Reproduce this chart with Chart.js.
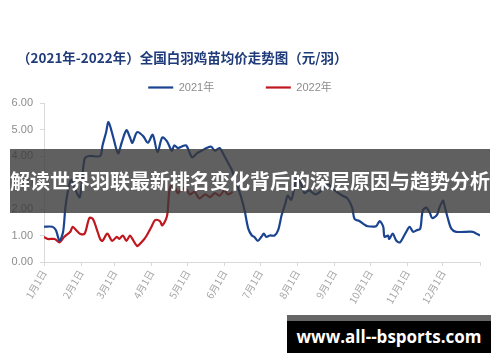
<!DOCTYPE html>
<html>
<head>
<meta charset="utf-8">
<script src="https://cdn.jsdelivr.net/npm/chart.js@4"></script>
<style>
  body { margin: 0; background: #fff; }
  #wrap { position: relative; width: 500px; height: 362px; overflow: hidden; }
  #titulo {
    position: absolute; left: 17px; top: 47px; white-space: nowrap;
    color: #1f3b7a; font: bold 13.5px "Noto Sans CJK SC", sans-serif; line-height: 20px;
  }
  #banner {
    position: absolute; left: 10px; top: 149px; width: 480px; height: 64px;
    background: rgba(56, 56, 56, 0.8); color: #fff;
    font: bold 20px "Noto Sans CJK SC", sans-serif; line-height: 64px;
    white-space: nowrap; text-align: center;
  }
  #mark {
    position: absolute; left: 287px; top: 315px; width: 204px; height: 32px;
    background: #000; border-top: 6px solid #666; color: #fff;
    font: bold 17px "Open Sans", sans-serif; line-height: 32px; text-align: center;
  }
</style>
</head>
<body>
<div id="wrap">
  <canvas id="grafico" width="500" height="362"></canvas>
  <div id="titulo">（2021年-2022年）全国白羽鸡苗均价走势图（元/羽）</div>
  <div id="banner">解读世界羽联最新排名变化背后的深层原因与趋势分析</div>
  <div id="mark">www.all--bsports.com</div>
</div>
<script>
// Días del año (0 = 1 de enero) y precio medio (元/羽)
const dias2021 = [0, 7, 10, 13, 16, 18, 21, 23, 26, 30, 34, 38, 47, 49, 52, 54, 58, 62, 65, 69, 72, 74, 78, 83, 87, 91, 95, 99, 103, 107, 109, 112, 115, 119, 124, 128, 132, 136, 140, 143, 147, 151, 154, 157, 161, 165, 168, 171, 174, 176, 179, 182, 184, 186, 189, 193, 196, 199, 202, 204, 207, 210, 212, 216, 218, 222, 227, 231, 235, 238, 241, 245, 250, 254, 258, 260, 264, 268, 271, 278, 281, 284, 285, 288, 289, 292, 295, 298, 300, 304, 306, 309, 312, 315, 317, 320, 323, 325, 329, 331, 334, 335, 338, 341, 345, 359, 362, 365];
const precio2021 = [1.33, 1.33, 1.2, 0.8, 1.14, 2.1, 2.9, 3.1, 2.75, 2.45, 3.9, 4.0, 4.0, 4.4, 4.9, 5.28, 4.7, 4.1, 4.5, 4.97, 4.7, 4.5, 4.9, 4.75, 4.5, 4.8, 4.15, 4.7, 4.55, 4.2, 4.4, 4.3, 4.35, 4.4, 3.95, 4.1, 4.2, 4.3, 4.35, 4.2, 4.3, 4.0, 3.75, 3.5, 2.97, 2.45, 1.93, 1.26, 1.0, 0.95, 0.8, 0.95, 1.07, 0.95, 1.0, 1.0, 1.2, 1.78, 2.2, 2.5, 2.35, 2.9, 3.2, 2.85, 2.6, 2.7, 2.55, 2.65, 2.85, 2.95, 2.8, 2.65, 2.5, 2.4, 2.05, 1.62, 1.55, 1.42, 1.35, 1.35, 1.54, 1.33, 0.95, 1.0, 0.87, 1.07, 0.8, 0.74, 0.87, 1.2, 1.33, 1.14, 1.2, 1.26, 1.93, 2.05, 1.86, 1.66, 1.78, 2.05, 2.32, 2.18, 1.66, 1.26, 1.14, 1.14, 1.07, 1.0];

const dias2022 = [0, 3, 9, 13, 17, 22, 24, 27, 30, 34, 38, 41, 44, 47, 49, 53, 57, 61, 63, 66, 69, 72, 74, 78, 80, 84, 86, 90, 93, 97, 99, 103, 105, 108, 112, 115, 119, 122, 126, 130, 135, 139, 143, 147, 151, 154, 158];
const precio2022 = [0.95, 0.87, 0.87, 0.74, 0.95, 1.14, 1.33, 1.2, 1.07, 1.07, 1.66, 1.62, 1.26, 0.87, 0.8, 1.07, 0.8, 0.95, 0.87, 1.0, 0.8, 1.0, 0.87, 0.6, 0.67, 0.87, 1.0, 1.33, 1.58, 1.54, 1.38, 1.74, 2.7, 3.0, 2.6, 2.75, 2.75, 2.55, 2.65, 2.4, 2.55, 2.45, 2.6, 2.5, 2.7, 2.55, 2.65];

// Inicio de cada mes en días y sus etiquetas
const inicioMes = [0, 31, 59, 90, 120, 151, 181, 212, 243, 273, 304, 334, 365];
const etiquetasMes = ['1月1日', '2月1日', '3月1日', '4月1日', '5月1日', '6月1日', '7月1日', '8月1日', '9月1日', '10月1日', '11月1日', '12月1日'];

const aPuntos = (dias, precios) => dias.map((d, i) => ({ x: d, y: precios[i] }));

const gris = '#8c8c8c';
const linea = '#d9d9d9';

new Chart(document.getElementById('grafico'), {
    type: 'line',
    data: {
        datasets: [{
            label: '2021年',
            data: aPuntos(dias2021, precio2021),
            borderColor: '#1b4490',
            backgroundColor: '#1b4490',
            borderWidth: 2.2,
            pointRadius: 0,
            tension: 0.3
        }, {
            label: '2022年',
            data: aPuntos(dias2022, precio2022),
            borderColor: '#c0161e',
            backgroundColor: '#c0161e',
            borderWidth: 2.2,
            pointRadius: 0,
            tension: 0.3
        }]
    },
    options: {
        responsive: false,
        animation: false,
        layout: { padding: { left: 0, right: 20, top: 64, bottom: 0 } },
        plugins: {
            legend: {
                position: 'top',
                labels: {
                    usePointStyle: true,
                    pointStyle: 'line',
                    pointStyleWidth: 25,
                    padding: 18,
                    color: gris,
                    font: { family: '"Liberation Sans", "Noto Sans CJK SC", sans-serif', size: 11 },
                    // separación más ancha entre las dos entradas, como en el original
                    generateLabels: chart => {
                        const items = Chart.defaults.plugins.legend.labels.generateLabels(chart);
                        items[0].text += '           ';
                        return items;
                    }
                }
            },
            tooltip: { enabled: false }
        },
        scales: {
            x: {
                type: 'linear',
                min: 0,
                max: 365,
                afterBuildTicks: scale => { scale.ticks = inicioMes.map(v => ({ value: v })); },
                afterFit: scale => { scale.height = 100; },
                grid: { drawOnChartArea: false, drawTicks: true, tickLength: 4, color: linea },
                border: { display: true, color: linea },
                ticks: {
                    autoSkip: false,
                    minRotation: 60,
                    maxRotation: 60,
                    padding: 2,
                    color: '#a6a6a6',
                    font: { family: '"Noto Sans CJK SC", sans-serif', size: 10 },
                    callback: (v, i) => etiquetasMes[i] || ''
                }
            },
            y: {
                min: 0,
                max: 6,
                afterFit: scale => { scale.width = 44; },
                grid: { drawOnChartArea: false, drawTicks: true, tickLength: 4, color: linea },
                border: { display: true, color: linea },
                ticks: {
                    stepSize: 1,
                    padding: 7,
                    color: gris,
                    font: { family: '"Liberation Sans", sans-serif', size: 11 },
                    callback: v => v.toFixed(2)
                }
            }
        }
    }
});
</script>
</body>
</html>
